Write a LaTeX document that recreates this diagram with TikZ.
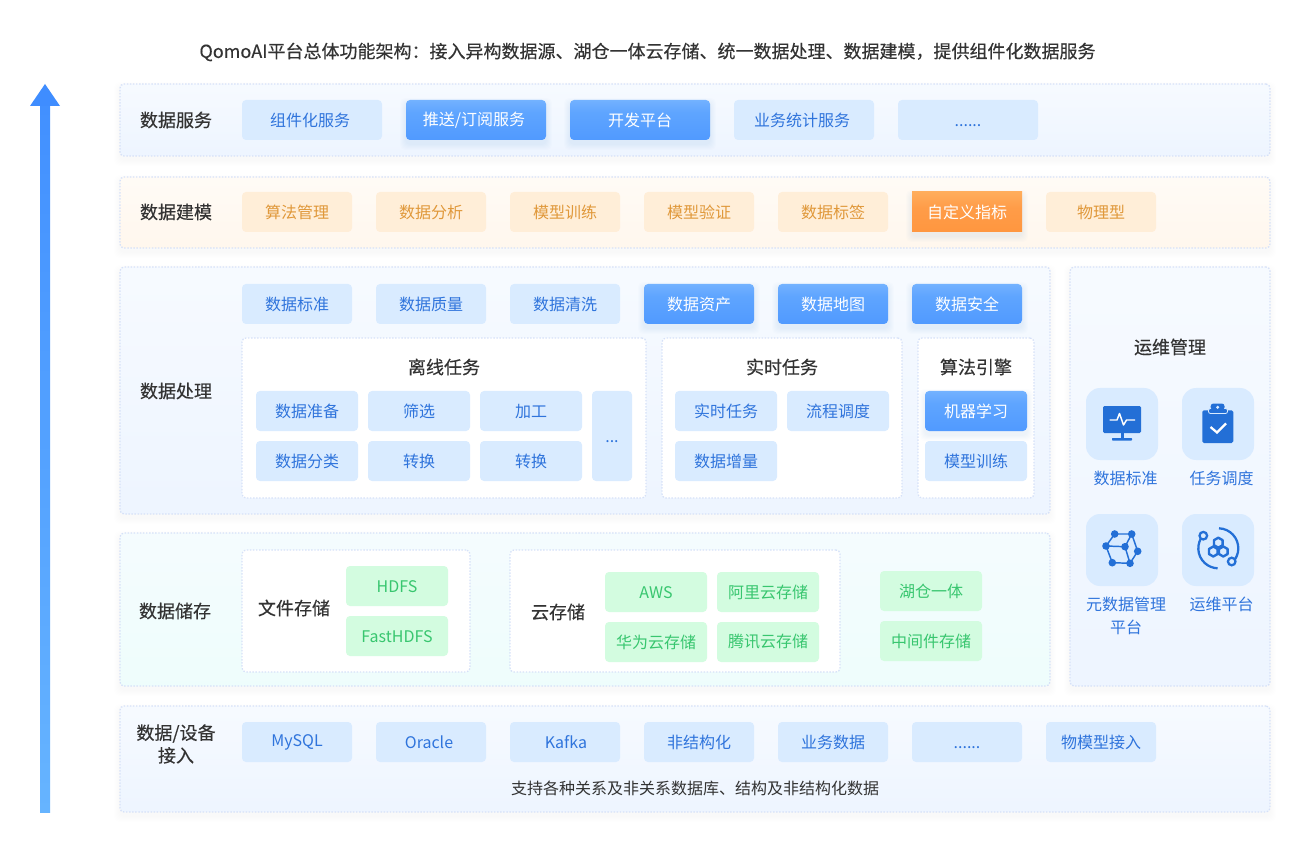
\documentclass[tikz,border=0pt]{standalone}
\usepackage{fontspec}
\setmainfont{Noto Sans CJK SC}
\newfontfamily\headfont[FakeBold=0.35]{Noto Sans CJK SC}
\usetikzlibrary{calc}
\definecolor{txtdark}{HTML}{333333}
\definecolor{txtblue}{HTML}{2F74DC}
\definecolor{txtorange}{HTML}{E0983A}
\definecolor{txtgreen}{HTML}{38C66F}
\definecolor{chipblue}{HTML}{D9EBFF}
\definecolor{chiporange}{HTML}{FFEED8}
\definecolor{chipgreen}{HTML}{D3FCE0}
\definecolor{dotline}{HTML}{D6E1F8}
\definecolor{iconblue}{HTML}{236FD6}
\definecolor{ab0}{HTML}{4692FF}
\definecolor{ab1}{HTML}{5FA5FF}
\definecolor{ab2}{HTML}{80BAFF}
\definecolor{ab3}{HTML}{B6D9FF}
\definecolor{ao0}{HTML}{FF9238}
\definecolor{ao1}{HTML}{FF9C48}
\definecolor{ao2}{HTML}{FFB868}
\definecolor{ao3}{HTML}{FFD8A8}
\definecolor{pb0}{HTML}{E9F2FF}
\definecolor{pb1}{HTML}{FBFDFF}
\definecolor{po0}{HTML}{FFF5E9}
\definecolor{po1}{HTML}{FFFDFA}
\definecolor{pg0}{HTML}{EBFDFB}
\definecolor{pg1}{HTML}{F8FCFF}
\definecolor{arrowlow}{HTML}{66B4FF}
\definecolor{arrowhigh}{HTML}{4290FF}
\definecolor{arrowhead}{HTML}{3F8DFF}
\definecolor{shadeblue}{HTML}{3060C0}
\pgfdeclareverticalshading{activeblue}{100bp}{color(0bp)=(ab0); color(60bp)=(ab1); color(85bp)=(ab2); color(100bp)=(ab3)}
\pgfdeclareverticalshading{activeorange}{100bp}{color(0bp)=(ao0); color(55bp)=(ao1); color(88bp)=(ao2); color(100bp)=(ao3)}
\pgfdeclareverticalshading{panelblue}{100bp}{color(0bp)=(pb0); color(100bp)=(pb1)}
\pgfdeclareverticalshading{panelorange}{100bp}{color(0bp)=(po0); color(100bp)=(po1)}
\pgfdeclareverticalshading{panelgreen}{100bp}{color(0bp)=(pg0); color(100bp)=(pg1)}
\tikzset{
  x=0.75pt,y=-0.75pt,
  panelbase/.style={draw=dotline,line width=0.95pt,dash pattern=on 1.1pt off 1.2pt,rounded corners=3pt,inner sep=0pt,outer sep=0pt,anchor=north west},
  whitebox/.style={panelbase,fill=white},
  chipbase/.style={rounded corners=3pt,inner sep=0pt,outer sep=0pt,anchor=center,font=\fontsize{12}{14}\selectfont},
  bluechip/.style={chipbase,fill=chipblue,text=txtblue},
  orangechip/.style={chipbase,fill=chiporange,text=txtorange},
  greenchip/.style={chipbase,fill=chipgreen,text=txtgreen},
  activeb/.style={chipbase,shading=activeblue,text=white},
  activeo/.style={chipbase,shading=activeorange,text=white,rounded corners=0pt},
  headlabel/.style={text=txtdark,inner sep=0pt,align=center,font=\headfont\fontsize{13.5}{17}\selectfont},
  ictext/.style={text=txtblue,inner sep=0pt,align=center,font=\fontsize{12}{17}\selectfont},
  iconbox/.style={fill=chipblue,rounded corners=10.5pt,inner sep=0pt,outer sep=0pt,anchor=north west,minimum width=54pt,minimum height=54pt},
}
% soft shadow: {x1}{y1}{x2}{y2}{colour}{opacity}
\newcommand{\softshade}[6]{%
  \foreach \i in {1,...,6}{%
    \fill[#5,opacity=#6,rounded corners=4pt] ({#1-\i},{#2-\i+4}) rectangle ({#3+\i},{#4+\i+4});
  }}
% \panel{name}{shading}{x1}{y1}{x2}{y2}
\newcommand{\panel}[6]{%
  \softshade{#3}{#4}{#5}{#6}{shadeblue}{0.005}
  \node[panelbase,shading=#2,minimum width={(#5-#3)*0.75pt},minimum height={(#6-#4)*0.75pt}] (#1) at (#3,#4) {};}
% \wbox{name}{x1}{y1}{x2}{y2}
\newcommand{\wbox}[5]{%
  \node[whitebox,minimum width={(#4-#2)*0.75pt},minimum height={(#5-#3)*0.75pt}] (#1) at (#2,#3) {};}
% \chip{style}{name}{x1}{y1}{x2}{y2}{text}: the strut keeps every text on one baseline
\newcommand{\chip}[7]{%
  \node[#1,minimum width={(#5-#3)*0.75pt},minimum height={(#6-#4)*0.75pt}] (#2) at ({(#3+#5)/2},{(#4+#6)/2}) {\vphantom{数}#7};}
\newcommand{\activeshadow}[4]{\softshade{#1}{#2}{#3}{#4}{shadeblue}{0.012}}
\newcommand{\nudgeleft}{\hspace*{-3pt}}
\begin{document}
\begin{tikzpicture}
\useasboundingbox (0,0) rectangle (1300,852);
\fill[white] (0,0) rectangle (1300,852);

% title
\node[text=txtdark,inner sep=0pt,font=\headfont\fontsize{13.5}{16}\selectfont] (title) at (647.5,52) {\vphantom{数}QomoAI平台总体功能架构：接入异构数据源、湖仓一体云存储、统一数据处理、数据建模，提供组件化数据服务};

% arrow
\shade[bottom color=arrowlow,top color=arrowhigh] (40,105) rectangle (50,812);
\fill[arrowhead] (45,84) -- (60,106) -- (30,106) -- cycle;

% panels
\panel{pservice}{panelblue}{120}{84}{1270}{156}
\panel{pmodel}{panelorange}{120}{177}{1270}{248}
\panel{pprocess}{panelblue}{120}{267}{1050}{514}
\panel{pops}{panelblue}{1070}{267}{1270}{686}
\panel{pstore}{panelgreen}{120}{533}{1050}{686}
\panel{paccess}{panelblue}{120}{706}{1270}{812}

% service row
\node[headlabel] (lservice) at (176,120) {数据服务};
\chip{bluechip}{s1}{242}{100}{382}{140}{\nudgeleft 组件化服务}
\activeshadow{406}{100}{546}{140}
\chip{activeb}{s2}{406}{100}{546}{140}{\nudgeleft 推送/订阅服务}
\activeshadow{570}{100}{710}{140}
\chip{activeb}{s3}{570}{100}{710}{140}{开发平台}
\chip{bluechip}{s4}{734}{100}{874}{140}{\nudgeleft 业务统计服务}
\chip{bluechip}{s5}{898}{100}{1038}{140}{......}

% model row
\node[headlabel] (lmodel) at (176,212) {数据建模};
\chip{orangechip}{m1}{242}{192}{352}{232}{算法管理}
\chip{orangechip}{m2}{376}{192}{486}{232}{数据分析}
\chip{orangechip}{m3}{510}{192}{620}{232}{模型训练}
\chip{orangechip}{m4}{644}{192}{754}{232}{模型验证}
\chip{orangechip}{m5}{778}{192}{888}{232}{数据标签}
\activeshadow{912}{192}{1022}{232}
\chip{activeo}{m6}{912}{192}{1022}{232}{自定义指标}
\chip{orangechip}{m7}{1046}{192}{1156}{232}{物理型}

% processing
\node[headlabel] (lprocess) at (176,391) {数据处理};
\chip{bluechip}{d1}{242}{284}{352}{324}{数据标准}
\chip{bluechip}{d2}{376}{284}{486}{324}{数据质量}
\chip{bluechip}{d3}{510}{284}{620}{324}{数据清洗}
\activeshadow{644}{284}{754}{324}
\chip{activeb}{d4}{644}{284}{754}{324}{数据资产}
\activeshadow{778}{284}{888}{324}
\chip{activeb}{d5}{778}{284}{888}{324}{数据地图}
\activeshadow{912}{284}{1022}{324}
\chip{activeb}{d6}{912}{284}{1022}{324}{数据安全}

\wbox{boff}{242}{338}{646}{498}
\node[headlabel] (loff) at (444,367) {离线任务};
\chip{bluechip}{o1}{256}{391}{358}{431}{数据准备}
\chip{bluechip}{o2}{368}{391}{470}{431}{筛选}
\chip{bluechip}{o3}{480}{391}{582}{431}{加工}
\chip{bluechip}{o4}{256}{441}{358}{481}{数据分类}
\chip{bluechip}{o5}{368}{441}{470}{481}{转换}
\chip{bluechip}{o6}{480}{441}{582}{481}{转换}
\chip{bluechip}{o7}{592}{391}{632}{481}{...}

\wbox{breal}{662}{338}{902}{498}
\node[headlabel] (lreal) at (782,367) {实时任务};
\chip{bluechip}{r1}{675}{391}{777}{431}{实时任务}
\chip{bluechip}{r2}{787}{391}{889}{431}{流程调度}
\chip{bluechip}{r3}{675}{441}{777}{481}{数据增量}

\wbox{balgo}{918}{338}{1034}{498}
\node[headlabel] (lalgo) at (976,367) {算法引擎};
\activeshadow{925}{391}{1027}{431}
\chip{activeb}{a1}{925}{391}{1027}{431}{机器学习}
\chip{bluechip}{a2}{925}{441}{1027}{481}{模型训练}

% storage
\node[headlabel] (lstore) at (175,611) {数据储存};
\wbox{bfile}{242}{550}{470}{672}
\node[headlabel] (lfile) at (294,608) {文件存储};
\chip{greenchip}{f1}{346}{566}{448}{606}{HDFS}
\chip{greenchip}{f2}{346}{616}{448}{656}{FastHDFS}
\wbox{bcloud}{510}{550}{840}{672}
\node[headlabel] (lcloud) at (558,612) {云存储};
\chip{greenchip}{c1}{605}{572}{707}{612}{AWS}
\chip{greenchip}{c2}{717}{572}{819}{612}{阿里云存储}
\chip{greenchip}{c3}{605}{622}{707}{662}{华为云存储}
\chip{greenchip}{c4}{717}{622}{819}{662}{腾讯云存储}
\chip{greenchip}{h1}{880}{571}{982}{611}{湖仓一体}
\chip{greenchip}{h2}{880}{621}{982}{661}{中间件存储}

% access
\node[headlabel] (laccess) at (176,744) {数据/设备\\接入};
\chip{bluechip}{i1}{242}{722}{352}{762}{MySQL}
\chip{bluechip}{i2}{376}{722}{486}{762}{\nudgeleft Oracle}
\chip{bluechip}{i3}{510}{722}{620}{762}{\hspace*{1.5pt}Kafka}
\chip{bluechip}{i4}{644}{722}{754}{762}{非结构化}
\chip{bluechip}{i5}{778}{722}{888}{762}{业务数据}
\chip{bluechip}{i6}{912}{722}{1022}{762}{......}
\chip{bluechip}{i7}{1046}{722}{1156}{762}{物模型接入}
\node[text=txtdark,inner sep=0pt,font=\fontsize{12}{14}\selectfont] (lnote) at (695,788) {支持各种关系及非关系数据库、结构及非结构化数据};

% operations
\node[headlabel] (lops) at (1170,347) {运维管理};
\node[iconbox] (ic1) at (1086,388) {};
\node[iconbox] (ic2) at (1182,388) {};
\node[iconbox] (ic3) at (1086,514) {};
\node[iconbox] (ic4) at (1182,514) {};
\node[ictext] (t1) at (1125.5,478) {数据标准};
\node[ictext] (t2) at (1221.5,478) {任务调度};
\node[ictext] (t3) at (1126,616) {元数据管理\\平台};
\node[ictext] (t4) at (1221.5,604) {运维平台};

% monitor icon
\fill[iconblue,rounded corners=1pt] (1103,406) rectangle (1141,433);
\fill[iconblue] (1120.5,433) rectangle (1123.5,439);
\fill[iconblue,rounded corners=.5pt] (1112,438) rectangle (1132,440.5);
\draw[white,line width=1.1pt,line join=round] (1109.5,420) -- (1117,420) -- (1119.5,413.5) -- (1123.5,425) -- (1126.5,420) -- (1135,420);

% clipboard icon
\fill[iconblue,rounded corners=1.2pt] (1202.3,410.3) rectangle (1233.3,443);
\fill[iconblue,rounded corners=1.5pt,draw=chipblue,line width=0.6pt] (1208.5,408.5) rectangle (1227.5,413.5);
\fill[iconblue,rounded corners=2pt] (1210.7,403.5) rectangle (1224.5,410);
\fill[chipblue] (1217.7,407.3) circle (1.7);
\draw[white,line width=1.7pt] (1210.5,427) -- (1217,432.5) -- (1226,423.5);

% graph icon
\coordinate (ga) at (1114.7,534);
\coordinate (gb) at (1131.7,534);
\coordinate (gc) at (1106,546);
\coordinate (gd) at (1125,546.7);
\coordinate (ge) at (1137.7,551.3);
\coordinate (gf) at (1112.3,562.7);
\coordinate (gg) at (1130,563.3);
\draw[iconblue,line width=1.1pt] (ga) -- (gb) -- (ge) -- (gg) -- (gf) -- (gc) -- cycle;
\draw[iconblue,line width=1.1pt] (gc) -- (gd) -- (gb) (gd) -- (gg);
\foreach \p in {ga,gb,gc,gd,ge,gf,gg}{\fill[iconblue] (\p) circle (3.8);}

% ops icon
\coordinate (oc) at (1218.3,548.3);
\draw[iconblue,line width=1.7pt] ($(oc)+(222:20)$) arc[start angle=222,end angle=92,radius=20];
\draw[iconblue,line width=1.7pt] ($(oc)+(272:20)$) arc[start angle=272,end angle=402,radius=20];
\draw[iconblue,line width=1.7pt,fill=chipblue] (1203.3,535.7) circle (3.8);
\draw[iconblue,line width=1.7pt,fill=chipblue] (1231.7,561.5) circle (3.8);
\foreach \hx/\hy in {1218.3/542.7,1213.3/551.5,1223.3/551.5}{
  \draw[iconblue,line width=1.8pt,line join=round] ($(\hx,\hy)+(90:5)$) -- ($(\hx,\hy)+(30:5)$) -- ($(\hx,\hy)+(-30:5)$) -- ($(\hx,\hy)+(-90:5)$) -- ($(\hx,\hy)+(-150:5)$) -- ($(\hx,\hy)+(150:5)$) -- cycle;
}
\end{tikzpicture}
\end{document}
